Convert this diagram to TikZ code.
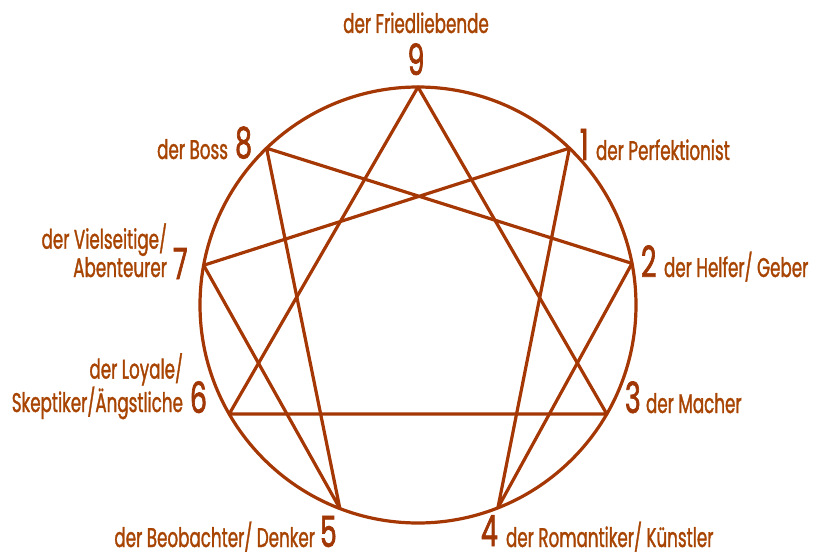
\documentclass[tikz,border=0pt]{standalone}
\usepackage{fontspec}
\setmainfont{Poppins}[FakeStretch=0.62,FakeBold=1.2]
\newfontfamily\numfont{Poppins}[FakeStretch=0.62,FakeBold=1.6]
\usetikzlibrary{calc}
\definecolor{linec}{RGB}{165,55,5}
\definecolor{textc}{RGB}{168,68,2}
\definecolor{numc}{RGB}{160,55,5}
\begin{document}
\begin{tikzpicture}[x=1pt,y=-1pt,
  lbl/.style={inner sep=0pt,outer sep=0pt,text=textc,font=\fontsize{27}{29}\selectfont},
  lbltwo/.style={lbl,align=right,font=\fontsize{27}{#1}\selectfont},
  num/.style={inner sep=0pt,outer sep=0pt,text depth=0pt,text=numc,font=\numfont\fontsize{43}{45}\selectfont},
  ennline/.style={draw=linec,line width=3.2pt,line join=round,line cap=round}]
\useasboundingbox (0,0) rectangle (819,559);
\coordinate (c) at (418,305);
\foreach \n/\a in {9/-90,1/-46,2/-11,3/30,4/68.5,5/111,6/150,7/190.5,8/-134}{
  \coordinate (p\n) at ($(c)+({218*cos(\a)},{218*sin(\a)})$);
}
\node[ennline,circle,minimum size=436pt,inner sep=0pt] (circ) at (c) {};
\draw[ennline] (p9) -- (p3) -- (p6) -- cycle;
\draw[ennline] (p1) -- (p4) -- (p2) -- (p8) -- (p5) -- (p7) -- cycle;
% numbers
\node[num,anchor=base] (n9) at (416,75) {9};
\node[num,anchor=base west] (n1) at (580,160) {1};
\node[num,anchor=base west] (n2) at (641,277) {2};
\node[num,anchor=base west] (n3) at (625,413) {3};
\node[num,anchor=base west] (n4) at (481,546) {4};
\node[num,anchor=base west] (n5) at (320,547) {5};
\node[num,anchor=base west] (n6) at (190,413) {6};
\node[num,anchor=base west] (n7) at (173,279) {7};
\node[num,anchor=base east] (n8) at (252,158) {8};
% labels
\node[lbl,anchor=base] (l9) at (416,33) {der Friedliebende};
\node[lbl,anchor=base west] (l1) at (596,160) {der Perfektionist};
\node[lbl,anchor=base west] (l2) at (664,277) {der Helfer/ Geber};
\node[lbl,anchor=base west] (l3) at (646,413) {der Macher};
\node[lbl,anchor=base west] (l4) at (506,547) {der Romantiker/ Künstler};
\node[lbl,anchor=base east] (l5) at (315,547) {der Beobachter/ Denker};
\node[lbltwo=29,anchor=base east] (l6) at (183,412) {der Loyale/\\Skeptiker/Ängstliche};
\node[lbltwo=24,anchor=base east] (l7) at (167,277) {der Vielseitige/\\Abenteurer};
\node[lbl,anchor=base east] (l8) at (228,159) {der Boss};
\end{tikzpicture}
\end{document}
